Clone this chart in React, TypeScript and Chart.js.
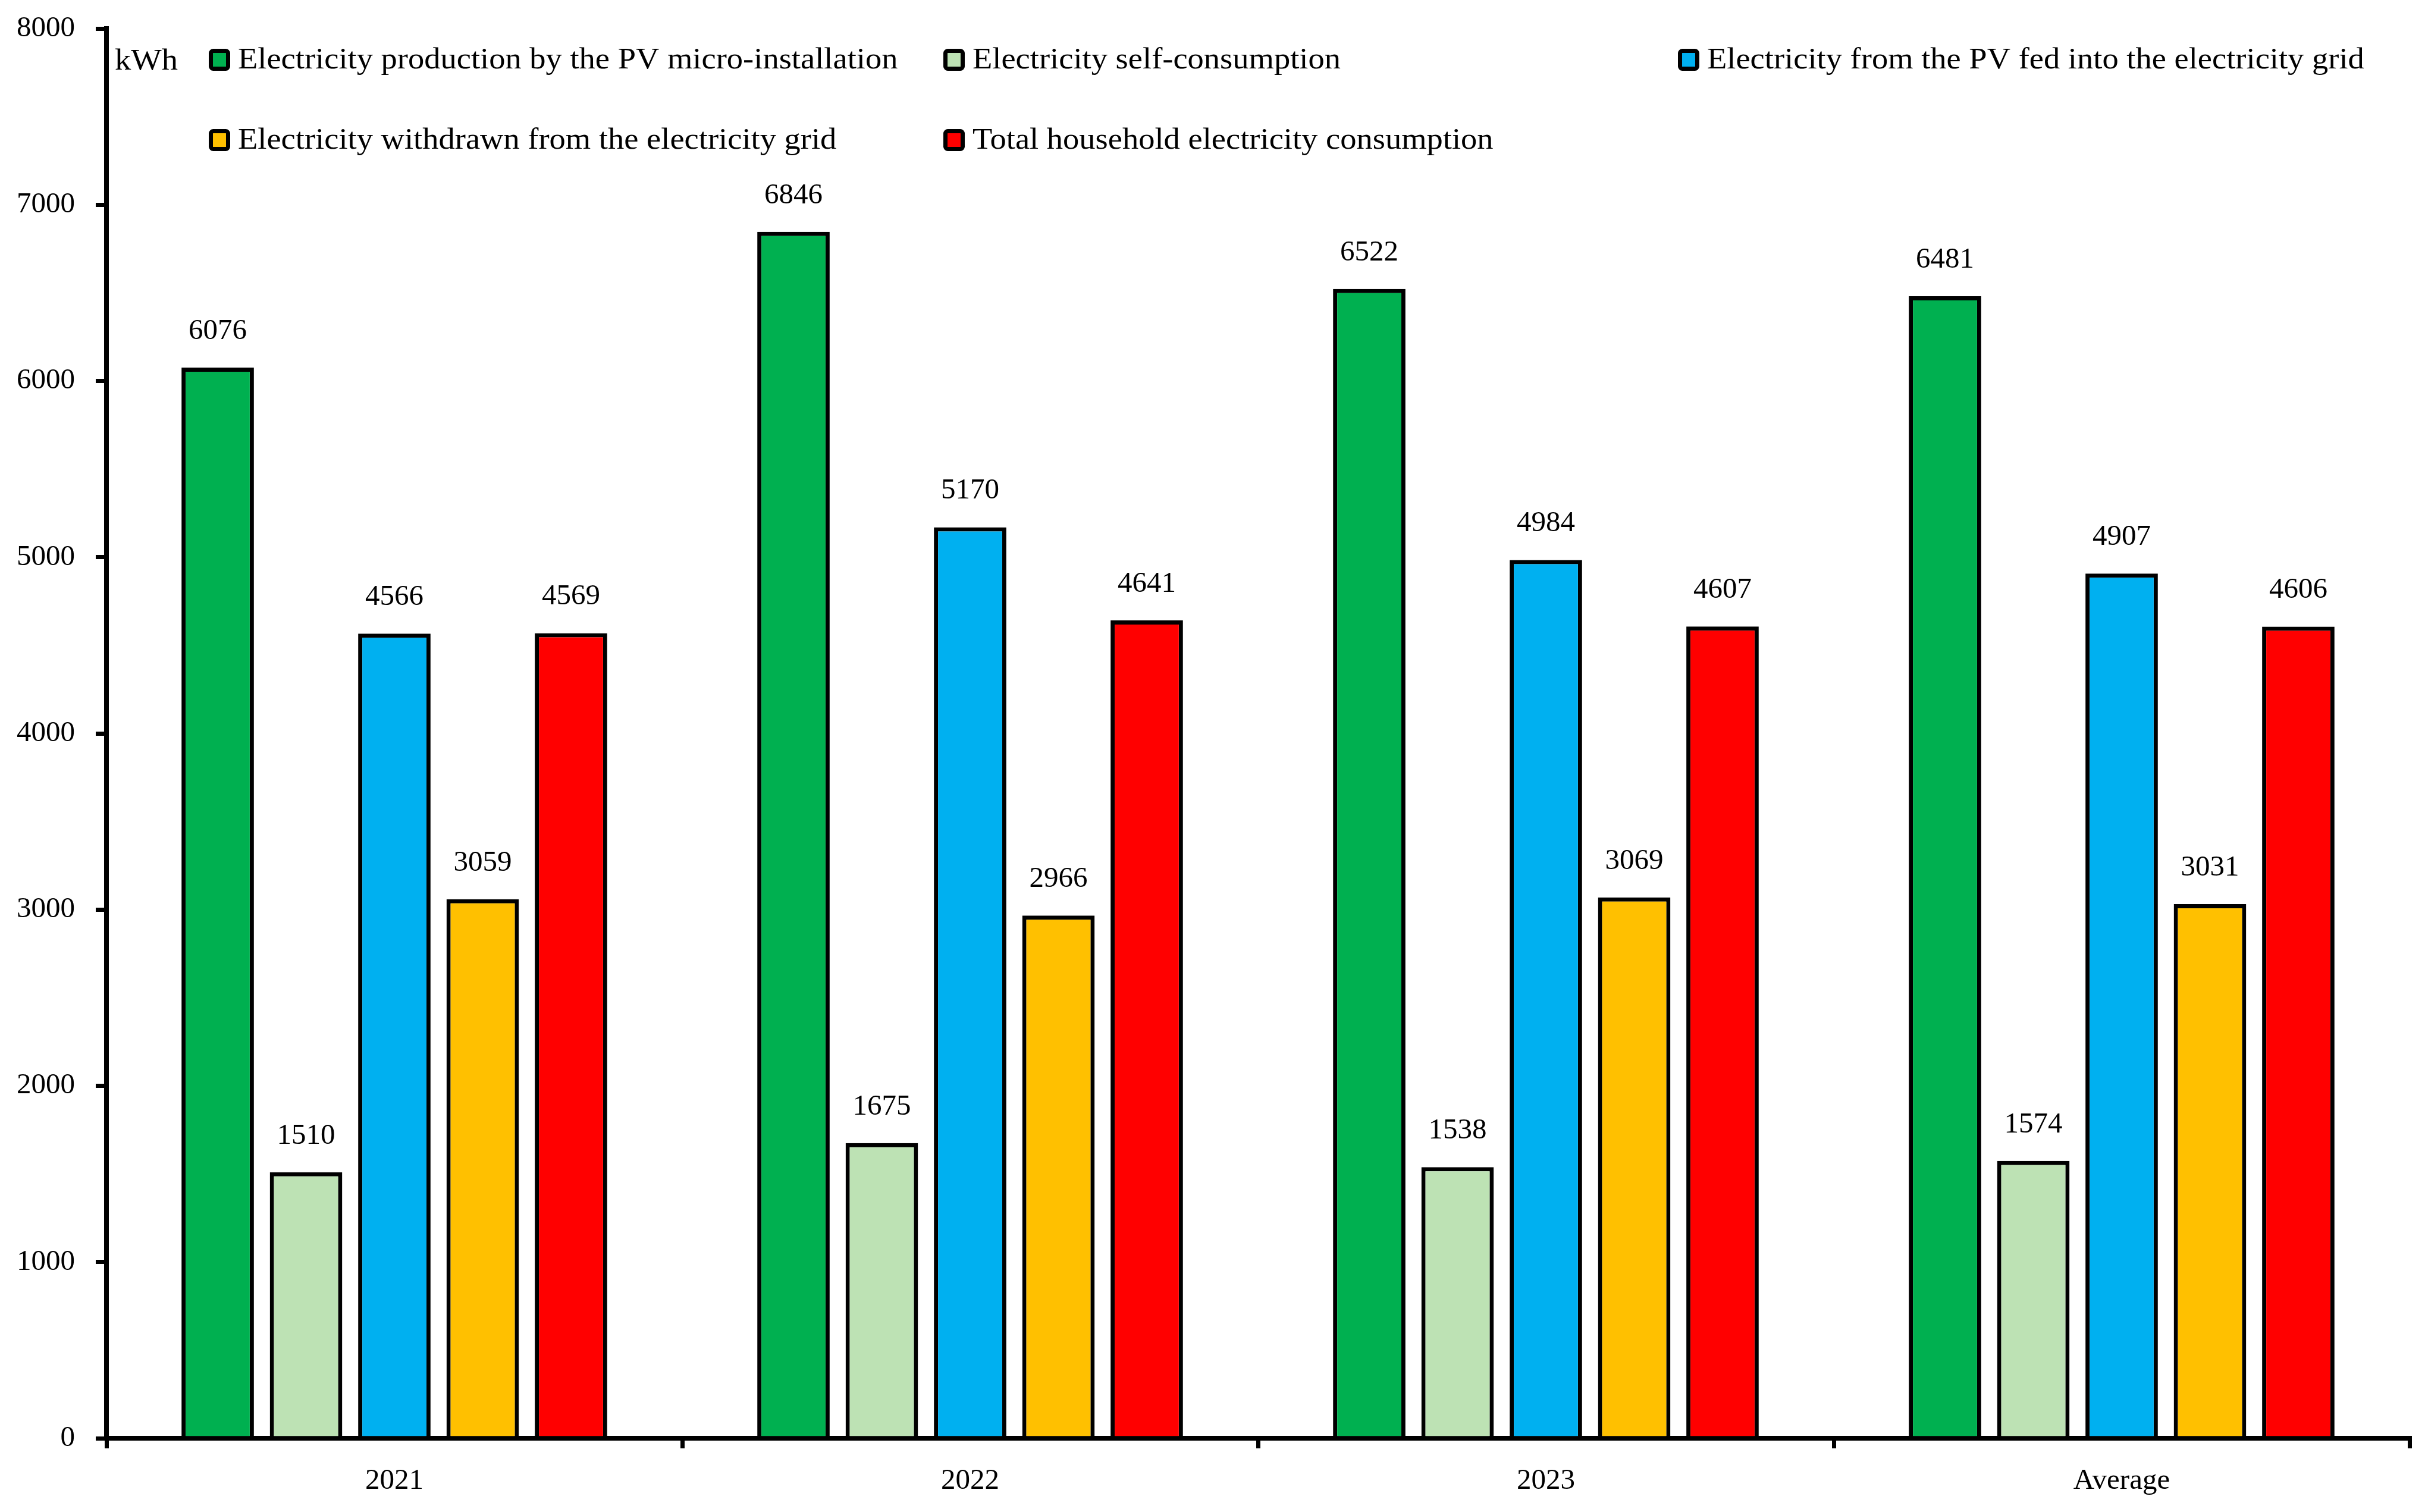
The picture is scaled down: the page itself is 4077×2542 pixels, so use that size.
import React, { useEffect, useRef } from "react";
import { Chart, registerables } from "chart.js";

Chart.register(...registerables);

const categories = ["2021", "2022", "2023", "Average"];
const seriesNames = [
  "Electricity production by the PV micro-installation",
  "Electricity self-consumption",
  "Electricity from the PV fed into the electricity grid",
  "Electricity withdrawn from the electricity grid",
  "Total household electricity consumption",
];
const production = [6076, 6846, 6522, 6481];
const selfConsumption = [1510, 1675, 1538, 1574];
const fedIntoGrid = [4566, 5170, 4984, 4907];
const withdrawnFromGrid = [3059, 2966, 3069, 3031];
const totalConsumption = [4569, 4641, 4607, 4606];
const seriesColors = ["#00B050", "#BDE2B4", "#00B0F0", "#FFC000", "#FF0000"];
const yTicks = [0, 1000, 2000, 3000, 4000, 5000, 6000, 7000, 8000];
const unitLabel = "kWh";

const FONT = "'Liberation Serif', 'Times New Roman', serif";
const TEXT_STRETCH = 1.09;

const valueLabelPlugin = {
  id: "valueLabels",
  afterDatasetsDraw(chart: any) {
    const ctx = chart.ctx;
    ctx.save();
    ctx.font = `49px ${FONT}`;
    ctx.fillStyle = "#000";
    ctx.textAlign = "center";
    ctx.textBaseline = "alphabetic";
    chart.data.datasets.forEach((ds: any, di: number) => {
      const meta = chart.getDatasetMeta(di);
      meta.data.forEach((bar: any, i: number) => {
        ctx.fillText(String(ds.data[i]), bar.x, bar.y - 48);
      });
    });
    ctx.restore();
  },
};

const gridLegendPlugin = {
  id: "gridLegend",
  afterDraw(chart: any) {
    const ctx = chart.ctx;
    const area = chart.chartArea;
    ctx.save();
    ctx.font = `50px ${FONT}`;
    ctx.fillStyle = "#000";
    ctx.textBaseline = "alphabetic";
    ctx.textAlign = "left";
    const drawStretched = (text: string, x: number, y: number) => {
      ctx.save();
      ctx.translate(x, y);
      ctx.scale(TEXT_STRETCH, 1);
      ctx.fillText(text, 0, 0);
      ctx.restore();
    };
    drawStretched(unitLabel, area.left + 14, area.top + 69);
    const colX0 = area.left + 172;
    const colW = 1235;
    const rowY0 = area.top + 34;
    const rowH = 135;
    chart.data.datasets.forEach((ds: any, i: number) => {
      const col = i % 3;
      const row = Math.floor(i / 3);
      const bx = colX0 + col * colW;
      const by = rowY0 + row * rowH;
      ctx.beginPath();
      ctx.roundRect(bx + 3.5, by + 3.5, 29, 30, 4);
      ctx.fillStyle = ds.backgroundColor;
      ctx.fill();
      ctx.lineWidth = 7;
      ctx.strokeStyle = "#000";
      ctx.stroke();
      ctx.fillStyle = "#000";
      drawStretched(ds.label, bx + 49, by + 33);
    });
    ctx.restore();
  },
};

export default function App() {
  const canvasRef = useRef<HTMLCanvasElement | null>(null);

  useEffect(() => {
    if (!canvasRef.current) return;
    const seriesData = [production, selfConsumption, fedIntoGrid, withdrawnFromGrid, totalConsumption];
    const chart = new Chart(canvasRef.current, {
      type: "bar",
      data: {
        labels: categories,
        datasets: seriesNames.map((name, i) => ({
          label: name,
          data: seriesData[i],
          backgroundColor: seriesColors[i],
          borderColor: "#000",
          borderWidth: 7,
          borderSkipped: "bottom",
          barPercentage: 0.82,
          categoryPercentage: 0.767,
        })),
      },
      options: {
        animation: false,
        responsive: true,
        maintainAspectRatio: false,
        devicePixelRatio: 1,
        layout: { padding: { top: 48, right: 26, left: 0, bottom: 0 } },
        plugins: {
          legend: { display: false },
          tooltip: { enabled: false },
          title: { display: false },
        },
        scales: {
          x: {
            type: "category",
            offset: true,
            grid: {
              display: true,
              offset: true,
              drawOnChartArea: false,
              drawTicks: true,
              tickLength: 17,
              lineWidth: 7,
              color: "#000",
            },
            border: { display: true, color: "#000", width: 8 },
            ticks: {
              color: "#000",
              font: { family: FONT, size: 49 },
              padding: 26,
              maxRotation: 0,
            },
            afterFit(scale: any) {
              scale.height = 124;
              scale.paddingLeft = 0;
              scale.paddingRight = 0;
            },
          },
          y: {
            min: 0,
            max: 8000,
            afterBuildTicks(scale: any) {
              scale.ticks = yTicks.map((v) => ({ value: v }));
            },
            grid: {
              display: true,
              drawOnChartArea: false,
              drawTicks: true,
              tickLength: 18,
              lineWidth: 7,
              color: "#000",
            },
            border: { display: true, color: "#000", width: 8 },
            ticks: {
              color: "#000",
              font: { family: FONT, size: 49 },
              padding: 35,
              callback: (v: any) => String(v),
            },
            afterFit(scale: any) {
              scale.width = 179;
              scale.paddingTop = 0;
              scale.paddingBottom = 0;
            },
          },
        },
      },
      plugins: [valueLabelPlugin, gridLegendPlugin],
    });
    return () => chart.destroy();
  }, []);

  return (
    <div style={{ position: "absolute", left: 0, top: 0, width: "4077px", height: "2542px", background: "#fff" }}>
      <canvas ref={canvasRef} />
    </div>
  );
}
